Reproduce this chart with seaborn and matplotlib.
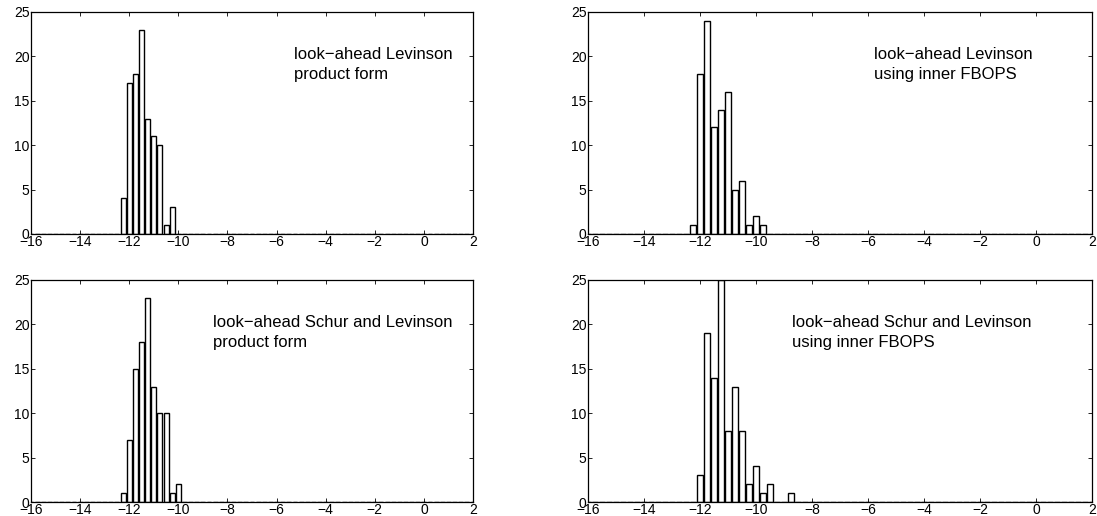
import numpy as np
import pandas as pd
import matplotlib
matplotlib.use("Agg")
import matplotlib.pyplot as plt
import seaborn as sns

sns.set_theme(style="white")
plt.rcParams['font.family'] = ['Liberation Sans', 'DejaVu Sans']
plt.rcParams['axes.unicode_minus'] = True

# ---- data (bin centres and counts of the non-empty bins) ----
bin_width = 0.25
x_range = (-16, 2)

tl_centers = [-12.25, -12.0, -11.75, -11.5, -11.25, -11.0, -10.75, -10.5, -10.25]
tl_counts = [4, 17, 18, 23, 13, 11, 10, 1, 3]
tl_label = ["look\u2212ahead Levinson", "product form"]

tr_centers = [-12.25, -12.0, -11.75, -11.5, -11.25, -11.0, -10.75, -10.5, -10.25, -10.0, -9.75]
tr_counts = [1, 18, 24, 12, 14, 16, 5, 6, 1, 2, 1]
tr_label = ["look\u2212ahead Levinson", "using inner FBOPS"]

bl_centers = [-12.25, -12.0, -11.75, -11.5, -11.25, -11.0, -10.75, -10.5, -10.25, -10.0]
bl_counts = [1, 7, 15, 18, 23, 13, 10, 10, 1, 2]
bl_label = ["look\u2212ahead Schur and Levinson", "product form"]

br_centers = [-12.0, -11.75, -11.5, -11.25, -11.0, -10.75, -10.5, -10.25, -10.0, -9.75, -9.5, -8.75]
br_counts = [3, 19, 14, 25, 8, 13, 8, 2, 4, 1, 2, 1]
br_label = ["look\u2212ahead Schur and Levinson", "using inner FBOPS"]

x_ticks = [-16, -14, -12, -10, -8, -6, -4, -2, 0, 2]
y_ticks = [0, 5, 10, 15, 20, 25]

W, H = 1097, 516
fig = plt.figure(figsize=(W / 100, H / 100), dpi=100)

# axes boxes in pixels: (left, top, right, bottom)
boxes = {
    "tl": (31, 12, 473, 234),
    "tr": (588, 12, 1092, 234),
    "bl": (31, 280, 473, 502),
    "br": (588, 280, 1092, 502),
}
text_x = {"tl": -5.3, "tr": -5.8, "bl": -8.6, "br": -8.7}
text_y = (20.2, 18.0)

panels = [
    ("tl", tl_centers, tl_counts, tl_label),
    ("tr", tr_centers, tr_counts, tr_label),
    ("bl", bl_centers, bl_counts, bl_label),
    ("br", br_centers, br_counts, br_label),
]

all_centers = np.round(np.arange(x_range[0], x_range[1] + 1e-9, bin_width), 4)

for key, centers, counts, label in panels:
    l, t, r, b = boxes[key]
    ax = fig.add_axes([l / W, 1 - b / H, (r - l) / W, (b - t) / H])
    cmap = dict(zip(np.round(centers, 4), counts))
    df = pd.DataFrame({"x": all_centers,
                       "n": [float(cmap.get(c, 0)) for c in all_centers]})
    sns.histplot(data=df, x="x", weights="n", binwidth=bin_width,
                 binrange=(x_range[0] - bin_width / 2, x_range[1] + bin_width / 2),
                 shrink=0.8, color="white", edgecolor="black", linewidth=1.0,
                 alpha=1, ax=ax)
    ax.set_xlim(*x_range)
    ax.set_ylim(0, 25)
    ax.set_xticks(x_ticks)
    ax.set_yticks(y_ticks)
    ax.set_xticklabels([str(v).replace("-", "\u2212") for v in x_ticks])
    ax.set_xlabel("")
    ax.set_ylabel("")
    for s in ax.spines.values():
        s.set_color("black")
        s.set_linewidth(0.9)
        s.set_visible(True)
    ax.tick_params(direction="in", length=3, width=0.6, top=True, right=True,
                   bottom=True, left=True, labelsize=10, pad=1, colors="black")
    for line, yy in zip(label, text_y):
        ax.text(text_x[key], yy, line, fontsize=12, ha="left", va="center",
                color="black")

fig.savefig("out.png", dpi=100, facecolor="white")
